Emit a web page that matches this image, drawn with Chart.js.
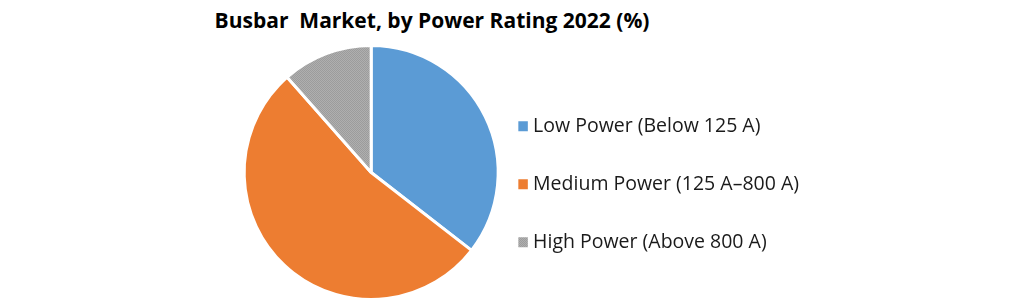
<!DOCTYPE html>
<html>
<head>
<meta charset="utf-8">
<script src="https://cdn.jsdelivr.net/npm/chart.js@4"></script>
<style>
  body { margin: 0; background: #fff; }
  #wrap { position: relative; width: 1021px; height: 304px; }
  #title { position: absolute; left: 0; top: 10px; width: 864px; text-align: center;
           font: bold 21px/20px "Open Sans", sans-serif; color: #000; white-space: pre; }
  canvas { position: absolute; left: 0; top: 0; }
</style>
</head>
<body>
<div id="wrap">
  <div id="title">Busbar  Market, by Power Rating 2022 (%)</div>
  <canvas id="myChart" width="1021" height="304"></canvas>
</div>
<script>
let categories = ["Low Power (Below 125 A)", "Medium Power (125 A–800 A)", "High Power (Above 800 A)"];
let shares = [35.5, 53, 11.5];
const colors = ["#5b9bd5", "#ed7d31", "#a5a5a5"];

// dotted grey fill like the office texture
function dotPattern(){
    let c = document.createElement("canvas");
    c.width = 2; c.height = 2;
    let g = c.getContext("2d");
    g.fillStyle = "#afafaf"; g.fillRect(0, 0, 2, 2);
    g.fillStyle = "#9c9c9c"; g.fillRect(0, 0, 1, 1); g.fillRect(1, 1, 1, 1);
    return g.createPattern(c, "repeat");
}

let fills = [colors[0], colors[1], dotPattern()];
// single-line arrays so the legend uses font lineHeight as row height
let legendLabels = categories.map(c => [c]);

new Chart("myChart", {
    type: "pie",
    data: {
        labels: legendLabels,
        datasets: [{
            data: shares,
            backgroundColor: fills,
            borderColor: "#ffffff",
            borderWidth: 3
        }]
    },
    options: {
        responsive: false,
        animation: false,
        layout: { padding: { left: 224, right: 212, top: 44, bottom: 3 } },
        plugins: {
            tooltip: { enabled: false },
            legend: {
                position: "right",
                align: "center",
                title: { display: true, text: "", font: { size: 10, lineHeight: 1 }, padding: { top: 48, bottom: 0 } },
                labels: {
                    boxWidth: 1,
                    boxHeight: 1,
                    padding: 4,
                    color: "#1a1a1a",
                    font: { family: "Open Sans", size: 19.5, lineHeight: "54px" },
                    generateLabels: function(chart){
                        let items = Chart.overrides.pie.plugins.legend.labels.generateLabels(chart);
                        items.forEach(it => { it.strokeStyle = it.fillStyle; it.lineWidth = 9; });
                        return items;
                    }
                }
            }
        }
    }
});
</script>
</body>
</html>
